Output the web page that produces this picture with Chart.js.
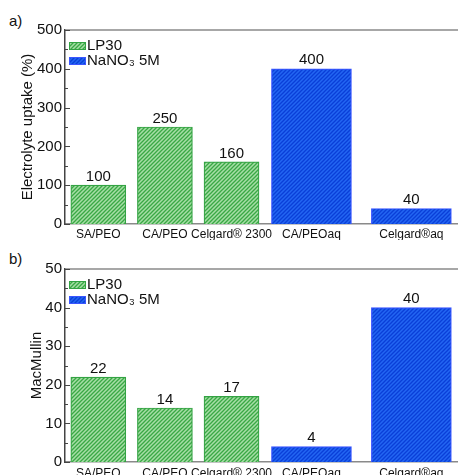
<!DOCTYPE html>
<html>
<head>
<meta charset="utf-8">
<script src="https://cdn.jsdelivr.net/npm/chart.js@4.4.1/dist/chart.umd.min.js"></script>
<style>
  html, body { margin: 0; padding: 0; background: #fff; }
  #wrap { position: relative; width: 458px; height: 475px; overflow: hidden; }
  canvas { position: absolute; left: 0; }
  .tag { position: absolute; font: 15px "Liberation Sans", Arial, sans-serif; color: #111; }
</style>
</head>
<body>
<div id="wrap">
  <div class="tag" style="left:9px; top:12px;">a)</div>
  <canvas id="chartA" width="458" height="240" style="top:0px"></canvas>
  <div class="tag" style="left:9px; top:250px;">b)</div>
  <canvas id="chartB" width="458" height="245" style="top:238px"></canvas>
</div>
<script>
const categories = ["SA/PEO", "CA/PEO", "Celgard® 2300", "CA/PEOaq", "Celgard®aq"];
const catPos = [1, 2, 3, 4.2, 5.7];
const seriesNames = ["LP30", "NaNO₃ 5M"];

// first three categories are LP30, last two NaNO3 5M
const uptakeLP30 = [100, 250, 160];
const uptakeNaNO3 = [400, 40];
const macLP30 = [22, 14, 17];
const macNaNO3 = [4, 40];

const uptakeTicks = [0, 100, 200, 300, 400, 500];
const macTicks = [0, 10, 20, 30, 40, 50];

const FONT = "'Liberation Sans', Arial, sans-serif";

function hatch(base, line) {
  var c = document.createElement("canvas");
  c.width = 4;
  c.height = 4;
  var g = c.getContext("2d");
  g.fillStyle = base;
  g.fillRect(0, 0, 4, 4);
  g.strokeStyle = line;
  g.lineWidth = 1.3;
  g.beginPath();
  g.moveTo(-1, 5); g.lineTo(5, -1);
  g.moveTo(-1, 1); g.lineTo(1, -1);
  g.moveTo(3, 5); g.lineTo(5, 3);
  g.stroke();
  return g.createPattern(c, "repeat");
}

const greenFill = hatch("#a6dea6", "#3aa845");
const blueFill = hatch("#2366f2", "#0a3fd8");

const panelPlugin = {
  id: "panelExtras",
  afterDatasetsDraw(chart) {
    const ctx = chart.ctx;
    const area = chart.chartArea;
    const y = chart.scales.y;

    // top frame
    ctx.save();
    ctx.strokeStyle = "#8a8a8a";
    ctx.lineWidth = 1.5;
    ctx.beginPath();
    ctx.moveTo(area.left, area.top);
    ctx.lineTo(area.right, area.top);
    ctx.stroke();

    // inward ticks on the y axis
    const step = y.options.ticks.stepSize / 2;
    ctx.strokeStyle = "#444";
    ctx.lineWidth = 1;
    for (var v = y.min; v <= y.max; v += step) {
      var py = Math.round(y.getPixelForValue(v)) + 0.5;
      var len = (v % y.options.ticks.stepSize === 0) ? 5 : 3;
      ctx.beginPath();
      ctx.moveTo(area.left, py);
      ctx.lineTo(area.left + len, py);
      ctx.stroke();
    }

    // values above the bars
    ctx.fillStyle = "#111";
    ctx.font = "15px " + FONT;
    ctx.textAlign = "center";
    ctx.textBaseline = "bottom";
    chart.data.datasets.forEach(function (ds, i) {
      chart.getDatasetMeta(i).data.forEach(function (bar, j) {
        ctx.fillText(String(ds.data[j].y), bar.x, bar.y - 1);
      });
    });

    // legend in the top-left corner
    ctx.textAlign = "left";
    ctx.textBaseline = "middle";
    chart.data.datasets.forEach(function (ds, i) {
      var ly = area.top + 12 + i * 15;
      ctx.fillStyle = ds.backgroundColor;
      ctx.fillRect(area.left + 4, ly, 17, 8);
      ctx.strokeStyle = ds.borderColor;
      ctx.strokeRect(area.left + 4.5, ly + 0.5, 16, 7);
      ctx.fillStyle = "#111";
      ctx.fillText(ds.label, area.left + 22, ly + 3.5);
    });
    ctx.restore();
  },
};

function makePanel(id, greenVals, blueVals, tickVals, title, titlePad, xHeight, xPad, topPad) {
  var green = greenVals.map((v, i) => ({ x: catPos[i], y: v }));
  var blue = blueVals.map((v, i) => ({ x: catPos[i + greenVals.length], y: v }));

  new Chart(document.getElementById(id), {
    type: "bar",
    data: {
      datasets: [
        {
          label: seriesNames[0],
          data: green,
          backgroundColor: greenFill,
          borderColor: "#33a343",
          borderWidth: 1.2,
          barThickness: 55,
          grouped: false,
        },
        {
          label: seriesNames[1],
          data: blue,
          backgroundColor: blueFill,
          borderColor: "#3a55ff",
          borderWidth: 1.2,
          barThickness: 80,
          grouped: false,
        },
      ],
    },
    options: {
      responsive: false,
      animation: false,
      layout: { padding: { top: topPad, left: 0, right: 0, bottom: 0 } },
      plugins: { legend: { display: false }, tooltip: { enabled: false } },
      scales: {
        x: {
          type: "linear",
          min: 0.5,
          max: 6.4,
          offset: false,
          grid: { display: false, drawTicks: false, offset: false },
          border: { color: "#8a8a8a", width: 1.5 },
          afterBuildTicks: function (scale) {
            scale.ticks = catPos.map((p) => ({ value: p }));
          },
          afterFit: function (scale) {
            scale.height = xHeight;
          },
          ticks: {
            autoSkip: false,
            maxRotation: 0,
            padding: xPad,
            color: "#111",
            font: { family: FONT, size: 12 },
            callback: function (value, index) {
              return categories[index];
            },
          },
        },
        y: {
          min: tickVals[0],
          max: tickVals[tickVals.length - 1],
          grid: { display: false, drawTicks: false },
          border: { color: "#444", width: 1.5 },
          afterFit: function (scale) {
            scale.width = 65;
          },
          ticks: {
            stepSize: tickVals[1] - tickVals[0],
            padding: 3,
            color: "#111",
            font: { family: FONT, size: 15 },
          },
          title: {
            display: true,
            text: title,
            color: "#111",
            font: { family: FONT, size: 15 },
            padding: { top: titlePad, bottom: 0 },
          },
        },
      },
    },
    plugins: [panelPlugin],
  });
}

makePanel("chartA", uptakeLP30, uptakeNaNO3, uptakeTicks, "Electrolyte uptake (%)", 19, 16, 3, 30);
makePanel("chartB", macLP30, macNaNO3, macTicks, "MacMullin", 28, 21, 4, 31);
</script>
</body>
</html>
